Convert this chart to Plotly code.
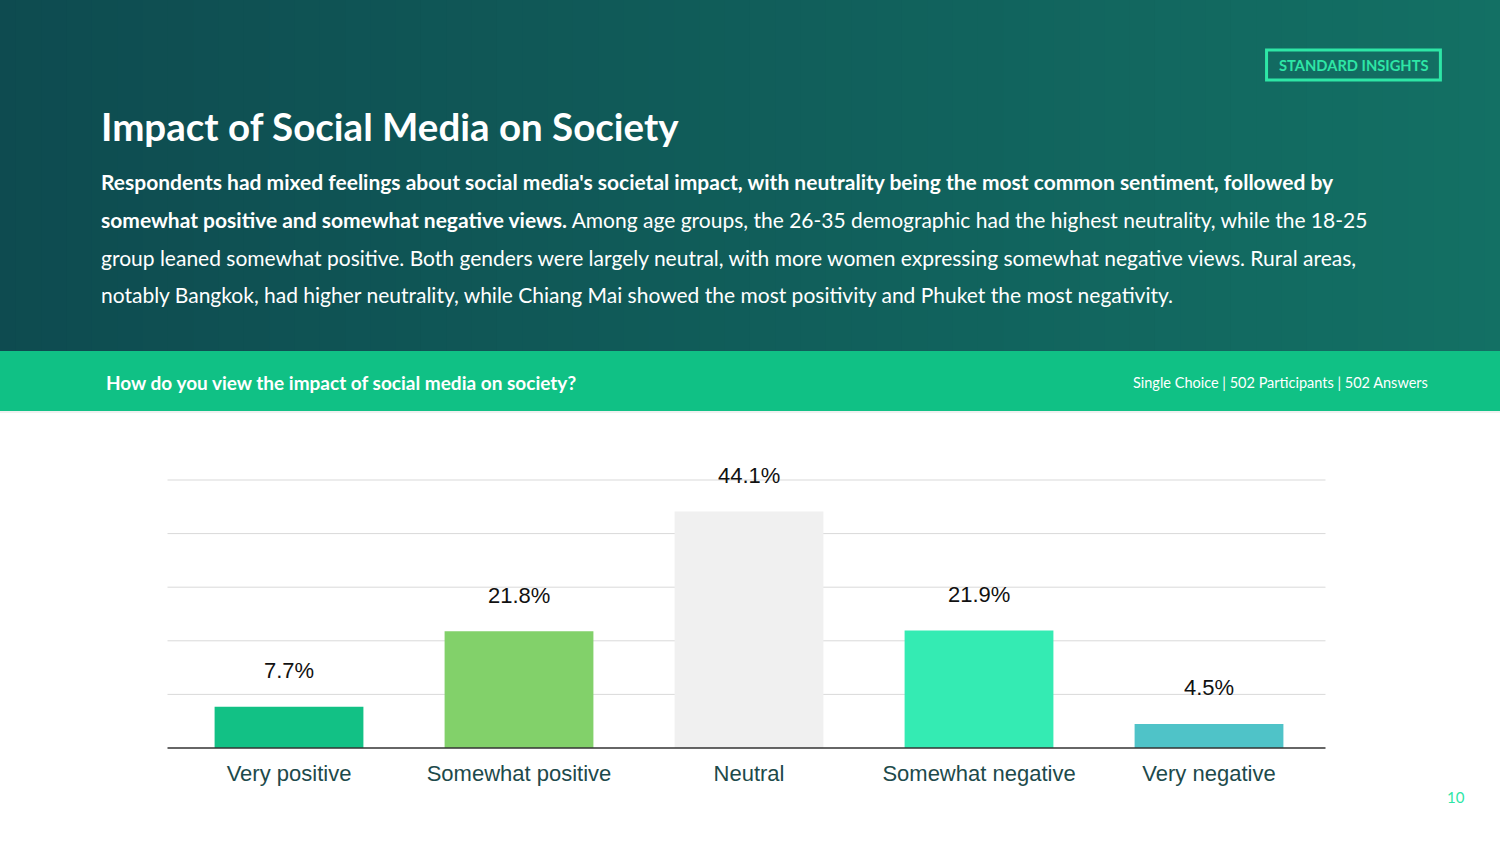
import plotly.graph_objects as go

categories = ["Very positive", "Somewhat positive", "Neutral", "Somewhat negative", "Very negative"]
values = [7.7, 21.8, 44.1, 21.9, 4.5]
bar_colors = ["#12c185", "#82d16a", "#f0f0f0", "#34ebb3", "#4fc3c8"]
y_ticks = [0, 10, 20, 30, 40, 50]

title = "Impact of Social Media on Society"
body_lines = [
    "<b>Respondents had mixed feelings about social media's societal impact, with neutrality being the most common sentiment, followed by</b>",
    "<b>somewhat positive and somewhat negative views.</b> Among age groups, the 26-35 demographic had the highest neutrality, while the 18-25",
    "group leaned somewhat positive. Both genders were largely neutral, with more women expressing somewhat negative views. Rural areas,",
    "notably Bangkok, had higher neutrality, while Chiang Mai showed the most positivity and Phuket the most negativity.",
]
question = "How do you view the impact of social media on society?"
meta = "Single Choice | 502 Participants | 502 Answers"
badge = "STANDARD INSIGHTS"
page_no = "10"

W, H = 1500, 844
PL, PR, PT, PB = 173.5, 1324.5, 480, 748  # plot area pixels
GL, GR = 167, 1326  # gridline extent
Y_MAX = y_ticks[-1]


def px(x):
    return (x - PL) / (PR - PL)


def py(y):
    return (PB - y) / (PB - PT)


UI_FONT = "Lato, 'Open Sans', sans-serif"
CHART_FONT = "'Liberation Sans', Arial, sans-serif"

fig = go.Figure()
fig.add_trace(go.Bar(
    x=categories, y=values, marker=dict(color=bar_colors, line=dict(width=0)),
    width=0.647, hoverinfo="skip",
))

shapes = []


def lerp(c1, c2, t):
    a = [int(c1[i:i + 2], 16) for i in (1, 3, 5)]
    b = [int(c2[i:i + 2], 16) for i in (1, 3, 5)]
    return "rgb(%d,%d,%d)" % tuple(round(a[k] + (b[k] - a[k]) * t) for k in range(3))


N = 60
for i in range(N):
    x0 = -10 + (W + 20) * i / N
    x1 = -10 + (W + 20) * (i + 1) / N + 1
    shapes.append(dict(type="rect", xref="paper", yref="paper", x0=px(x0), x1=px(x1),
                       y0=py(-10), y1=py(352), fillcolor=lerp("#0e4b50", "#137064", i / (N - 1)),
                       line=dict(width=0), layer="below"))
# green band shadow + band
shapes.append(dict(type="rect", xref="paper", yref="paper", x0=px(-10), x1=px(W + 10), y0=py(351), y1=py(413),
                   fillcolor="rgba(0,0,0,0.06)", line=dict(width=0), layer="below"))
shapes.append(dict(type="rect", xref="paper", yref="paper", x0=px(-10), x1=px(W + 10), y0=py(351), y1=py(411),
                   fillcolor="#10c185", line=dict(width=0), layer="below"))
# badge
shapes.append(dict(type="rect", xref="paper", yref="paper", x0=px(1267), x1=px(1441), y0=py(50), y1=py(80),
                   fillcolor="rgba(0,0,0,0)", line=dict(color="#2ee6a6", width=3)))
# gridlines (paper coords, derived from tick values so they are not clipped)
for t in y_ticks[1:]:
    shapes.append(dict(type="line", xref="paper", yref="paper", x0=px(GL), x1=px(GR), y0=t / Y_MAX, y1=t / Y_MAX,
                       line=dict(color="#d9d9d9", width=1), layer="below"))
# baseline
shapes.append(dict(type="line", xref="paper", yref="paper", x0=px(GL), x1=px(GR), y0=0, y1=0,
                   line=dict(color="#333333", width=1.5)))

ann = []
ann.append(dict(text="<b>" + title + "</b>", x=px(98), y=py(126), xref="paper", yref="paper", xanchor="left",
                yanchor="middle", showarrow=False, font=dict(family=UI_FONT, size=38.5, color="white")))
for i, line in enumerate(body_lines):
    ann.append(dict(text=line, x=px(98), y=py(182 + i * 37.5), xref="paper", yref="paper", xanchor="left",
                    yanchor="middle", showarrow=False, font=dict(family=UI_FONT, size=21, color="white")))
ann.append(dict(text="<b>" + question + "</b>", x=px(103), y=py(382), xref="paper", yref="paper", xanchor="left",
                yanchor="middle", showarrow=False, font=dict(family=UI_FONT, size=19, color="white")))
ann.append(dict(text=meta, x=px(1431), y=py(382), xref="paper", yref="paper", xanchor="right",
                yanchor="middle", showarrow=False, font=dict(family=UI_FONT, size=14.5, color="white")))
ann.append(dict(text="<b>" + badge + "</b>", x=px(1354), y=py(65), xref="paper", yref="paper", xanchor="center",
                yanchor="middle", showarrow=False, font=dict(family=UI_FONT, size=14.7, color="#2ee6a6")))
ann.append(dict(text=page_no, x=px(1457), y=py(797), xref="paper", yref="paper", xanchor="center",
                yanchor="middle", showarrow=False, font=dict(family=UI_FONT, size=15, color="#2ee6a6")))
for c, v in zip(categories, values):
    ann.append(dict(text=f"{v:.1f}%", x=c, y=v, xref="x", yref="y", xanchor="center", yanchor="middle",
                    yshift=36, showarrow=False, font=dict(family=CHART_FONT, size=22, color="#111111")))

fig.update_layout(
    width=W, height=H, margin=dict(l=PL, r=W - PR, t=PT, b=H - PB, pad=0),
    paper_bgcolor="white", plot_bgcolor="rgba(0,0,0,0)", showlegend=False,
    shapes=shapes, annotations=ann,
    xaxis=dict(showgrid=False, showline=False, ticks="", ticklabelstandoff=10,
               tickfont=dict(family=CHART_FONT, size=22, color="#1d4a4b"), fixedrange=True),
    yaxis=dict(range=[0, Y_MAX], tickvals=y_ticks, showticklabels=False, showgrid=False,
               zeroline=False, showline=False, fixedrange=True),
)
fig.write_html("out.html", config=dict(displayModeBar=False))
